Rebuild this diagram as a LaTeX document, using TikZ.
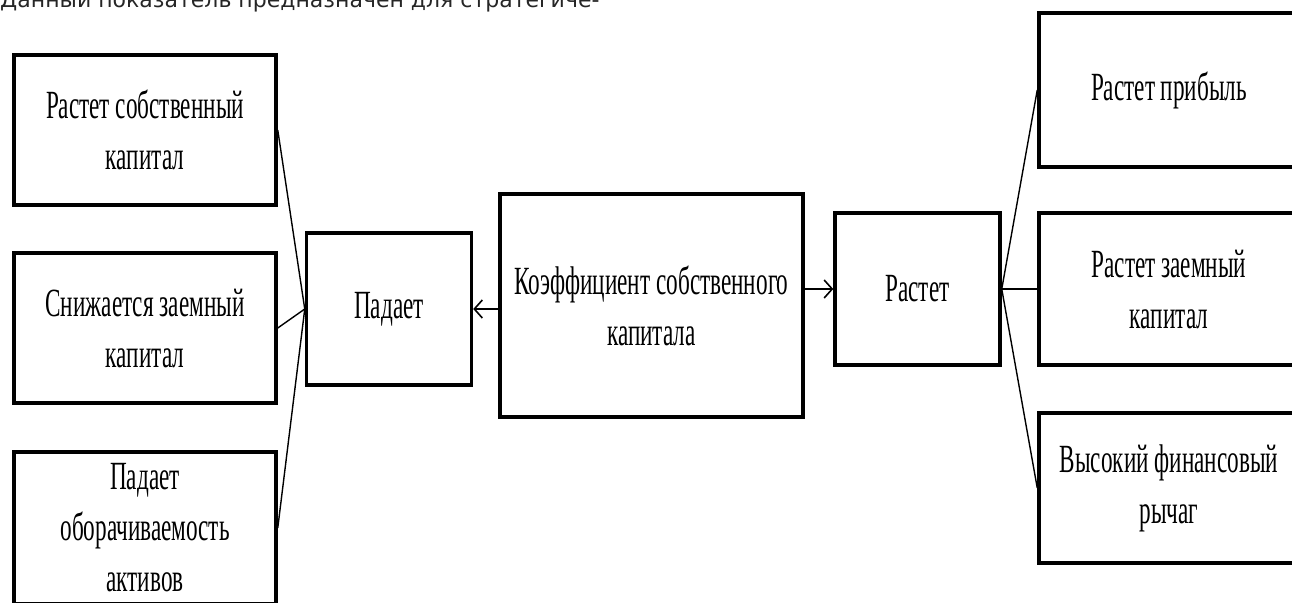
\documentclass[tikz,border=0pt]{standalone}
\usepackage{fontspec}
\usepackage{tikz}
\usetikzlibrary{arrows.meta}
\newfontfamily\boxfont[FakeStretch=0.58]{Liberation Serif}
\newfontfamily\headfont{DejaVu Sans}
\tikzset{
    box/.style      = {draw, line width=3.5pt, fill=white, inner sep=0pt,
                      align=center, font=\boxfont\fontsize{40}{51}\selectfont},
    sidebox/.style  = {box, minimum width=262pt, minimum height=150pt},
    midbox/.style   = {box, minimum width=165pt, minimum height=152pt},
    coefbox/.style  = {box, minimum width=303pt, minimum height=223pt},
    headtext/.style = {inner sep=0pt, text=black!85,
                      font=\headfont\fontsize{22}{26}\selectfont},
    link/.style     = {line width=1.4pt},
    arrowlink/.style= {line width=2.2pt, -{Straight Barb[length=8pt,width=18pt,line width=1.6pt]}},
  }
\begin{document}
\begin{tikzpicture}[x=1pt,y=-1pt]
    \useasboundingbox (0,0) rectangle (1292,602);

    % Heading line, cut by the top edge
    \node[headtext, anchor=base west] (head) at (0,8)
        {Данный показатель предназначен для стратегиче-};

    % Left column: causes of the fall
    \node[sidebox] (L1) at (145,130) {Растет собственный\\капитал};
    \node[sidebox] (L2) at (145,328) {Снижается заемный\\капитал};
    \node[sidebox, minimum height=152pt] (L3) at (145,528) {Падает\\оборачиваемость\\активов};

    % Centre: the ratio and its two directions
    \node[midbox]  (fall) at (389,309)   {Падает};
    \node[coefbox] (coef) at (651.5,305.5) {Коэффициент собственного\\капитала};
    \node[midbox]  (grow) at (917.5,289) {Растет};

    % Right column: causes of the growth
    \node[sidebox, minimum width=260pt, minimum height=154pt] (R1) at (1169,90) {Растет прибыль};
    \node[sidebox, minimum width=260pt, minimum height=152pt] (R2) at (1169,289) {Растет заемный\\капитал};
    \node[sidebox, minimum width=260pt] (R3) at (1169,488) {Высокий финансовый\\рычаг};

    % Connectors
    \foreach \b in {L1,L2,L3} {
        \draw[link] (\b.east) -- (fall.west);
    }
    \foreach \b in {R1,R2,R3} {
        \draw[link] (grow.east) -- (\b.west);
    }
    \draw[arrowlink] (coef.west |- fall.east) -- (fall.east);
    \draw[arrowlink] (coef.east |- grow.west) -- (grow.west);
\end{tikzpicture}
\end{document}
